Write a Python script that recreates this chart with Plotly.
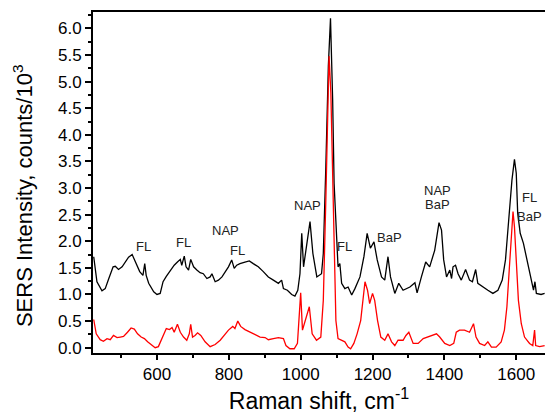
import plotly.graph_objects as go

# Raman shift (cm^-1) and intensity (counts/10^3)
black_x = [424, 433, 447, 456, 466, 478, 484, 493, 503, 512, 521, 531, 540, 552, 561, 566, 570, 577,
           591, 600, 609, 617, 626, 635, 642, 648, 657, 665, 669, 676, 681, 688, 694, 702, 711, 720,
           729, 739, 748, 753, 762, 771, 781, 790, 799, 808, 815, 822, 831, 845, 857, 868, 882, 896,
           910, 924, 938, 947, 952, 963, 975, 984, 992, 998, 1003, 1008, 1016, 1026, 1034, 1045, 1058,
           1063, 1070, 1077, 1083, 1089, 1093, 1100, 1104, 1109, 1114, 1123, 1132, 1142, 1151, 1165,
           1176, 1185, 1194, 1204, 1213, 1225, 1234, 1243, 1250, 1262, 1273, 1285, 1304, 1318, 1324,
           1336, 1348, 1359, 1373, 1385, 1392, 1398, 1406, 1415, 1420, 1424, 1431, 1438, 1447, 1459,
           1470, 1478, 1487, 1493, 1507, 1521, 1535, 1549, 1561, 1570, 1579, 1588, 1595, 1600, 1604,
           1611, 1620, 1632, 1642, 1648, 1652, 1656, 1669, 1679]
black_y = [1.71, 1.24, 1.07, 1.11, 1.30, 1.52, 1.53, 1.47, 1.52, 1.61, 1.70, 1.75, 1.61, 1.43, 1.36, 1.58, 1.36, 1.21,
           1.05, 1.00, 1.02, 1.24, 1.34, 1.43, 1.49, 1.55, 1.61, 1.66, 1.55, 1.72, 1.52, 1.46, 1.66, 1.52, 1.46, 1.41,
           1.39, 1.30, 1.33, 1.39, 1.24, 1.27, 1.33, 1.43, 1.52, 1.65, 1.49, 1.55, 1.58, 1.61, 1.63, 1.58, 1.52, 1.43,
           1.33, 1.27, 1.21, 1.27, 1.11, 1.08, 1.00, 0.97, 1.08, 1.39, 2.15, 1.52, 1.93, 2.37, 1.77, 1.33, 1.39,
           1.77, 3.40, 5.29, 6.19, 4.66, 3.09, 2.02, 1.52, 1.58, 1.21, 1.11, 1.14, 0.99, 1.11, 1.33,
           1.71, 2.15, 1.87, 1.99, 1.65, 1.33, 1.27, 1.71, 1.33, 1.02, 1.21, 1.08, 1.14, 1.22, 1.03,
           1.33, 1.61, 1.52, 1.83, 2.35, 2.21, 1.65, 1.33, 1.46, 1.30, 1.52, 1.55, 1.39, 1.27, 1.47,
           1.27, 1.24, 1.47, 1.21, 1.14, 1.08, 1.02, 1.08, 1.27, 1.65, 2.40, 3.15, 3.54, 3.28, 2.53,
           2.15, 1.96, 1.58, 1.27, 1.08, 1.24, 1.02, 1.00, 1.02]

red_x = [424, 431, 442, 451, 461, 470, 479, 489, 498, 507, 518, 528, 537, 546, 556, 565, 574, 583,
         595, 604, 611, 618, 626, 635, 642, 648, 657, 665, 674, 683, 690, 694, 699, 706, 713, 722,
         734, 748, 762, 776, 787, 799, 811, 817, 825, 833, 845, 859, 873, 887, 901, 910, 924, 938,
         952, 959, 970, 982, 991, 996, 1000, 1005, 1015, 1024, 1032, 1044, 1056, 1063, 1070, 1076,
         1079, 1084, 1089, 1093, 1098, 1104, 1114, 1123, 1132, 1139, 1148, 1157, 1167, 1174, 1179,
         1186, 1192, 1200, 1206, 1214, 1223, 1234, 1243, 1253, 1262, 1271, 1285, 1293, 1301, 1313,
         1327, 1341, 1355, 1368, 1378, 1387, 1401, 1415, 1426, 1433, 1442, 1456, 1470, 1481, 1488,
         1498, 1512, 1521, 1531, 1544, 1558, 1567, 1574, 1581, 1587, 1591, 1595, 1600, 1606, 1614,
         1623, 1637, 1646, 1651, 1654, 1665, 1679]
red_y = [0.53, 0.26, 0.15, 0.12, 0.17, 0.15, 0.23, 0.19, 0.20, 0.21, 0.29, 0.37, 0.35, 0.26, 0.20, 0.17, 0.11, 0.06,
         0.00, 0.02, 0.14, 0.26, 0.36, 0.34, 0.38, 0.29, 0.44, 0.29, 0.20, 0.14, 0.26, 0.44, 0.20, 0.23, 0.28, 0.23,
         0.11, 0.02, 0.06, 0.14, 0.23, 0.33, 0.40, 0.36, 0.50, 0.40, 0.34, 0.29, 0.25, 0.20, 0.19, 0.15, 0.17, 0.19,
         0.17, 0.04, -0.02, -0.02, 0.08, 0.51, 1.03, 0.33, 0.58, 0.77, 0.26, 0.14, 0.20, 0.89, 2.78, 4.66,
         5.48, 4.79, 3.09, 1.52, 0.51, 0.17, 0.14, 0.11, 0.01, -0.02, 0.08, 0.26, 0.51, 0.89, 1.24,
         1.08, 0.83, 1.02, 0.89, 0.51, 0.20, 0.14, 0.26, 0.11, 0.04, 0.14, 0.14, 0.23, 0.29, 0.08,
         0.08, 0.17, 0.20, 0.23, 0.26, 0.20, 0.08, 0.04, 0.08, 0.29, 0.33, 0.33, 0.29, 0.45, 0.20,
         0.08, 0.04, 0.11, 0.01, 0.01, 0.11, 0.33, 0.77, 1.52, 2.27, 2.56, 2.27, 1.52, 0.89, 0.45,
         0.20, 0.08, 0.04, 0.33, 0.04, 0.02, 0.04]

# Peak assignment labels: (text, Raman shift, intensity)
labels = [("FL", 563, 1.90), ("FL", 674, 1.97), ("NAP", 790, 2.21), ("FL", 824, 1.83),
          ("NAP", 1020, 2.68), ("FL", 1123, 1.91), ("BaP", 1248, 2.07),
          ("NAP", 1382, 2.95), ("BaP", 1382, 2.70), ("FL", 1637, 2.82), ("BaP", 1637, 2.46)]

x_title = "Raman shift, cm<sup>-1</sup>"
y_title = "SERS Intensity, counts/10<sup>3</sup>"

FONT = "Liberation Sans, Arial, sans-serif"

fig = go.Figure()
fig.add_trace(go.Scatter(x=black_x, y=black_y, mode="lines",
                         line=dict(color="black", width=1.3), showlegend=False))
fig.add_trace(go.Scatter(x=red_x, y=red_y, mode="lines",
                         line=dict(color="#ff0000", width=1.3), showlegend=False))

for text, x, y in labels:
    fig.add_annotation(x=x, y=y, text=text, showarrow=False,
                       font=dict(family=FONT, size=13, color="#222"))

# y-axis title placed as a rotated annotation (matches reference offset)
fig.add_annotation(xref="paper", yref="paper", x=-0.155, y=0.463, text=y_title,
                   textangle=-90, showarrow=False, xanchor="center", yanchor="middle",
                   font=dict(family=FONT, size=22, color="black"))

fig.update_layout(
    width=545, height=414,
    margin=dict(l=93, r=0, t=12, b=61),
    paper_bgcolor="white", plot_bgcolor="white",
    font=dict(family=FONT, color="black"),
)
fig.update_xaxes(
    range=[422, 1680], showgrid=False, zeroline=False,
    showline=True, linecolor="black", linewidth=2, mirror=True,
    ticks="outside", ticklen=5, tickwidth=1.5, tickcolor="black",
    tick0=0, dtick=200, tickfont=dict(size=17, family=FONT),
    minor=dict(ticks="outside", ticklen=3, dtick=100, tick0=0, tickcolor="black", tickwidth=1.5),
    title=dict(text=x_title, font=dict(size=23, family=FONT), standoff=11),
)
fig.update_yaxes(
    range=[-0.10, 6.31], showgrid=False, zeroline=False,
    showline=True, linecolor="black", linewidth=2, mirror=False,
    ticks="outside", ticklen=6, tickwidth=1.5, tickcolor="black",
    tick0=0, dtick=0.5, tickformat=".1f", tickfont=dict(size=17, family=FONT),
    minor=dict(ticks="outside", ticklen=3, dtick=0.25, tick0=0, tickcolor="black", tickwidth=1.5),
)

fig.write_html("out.html")
